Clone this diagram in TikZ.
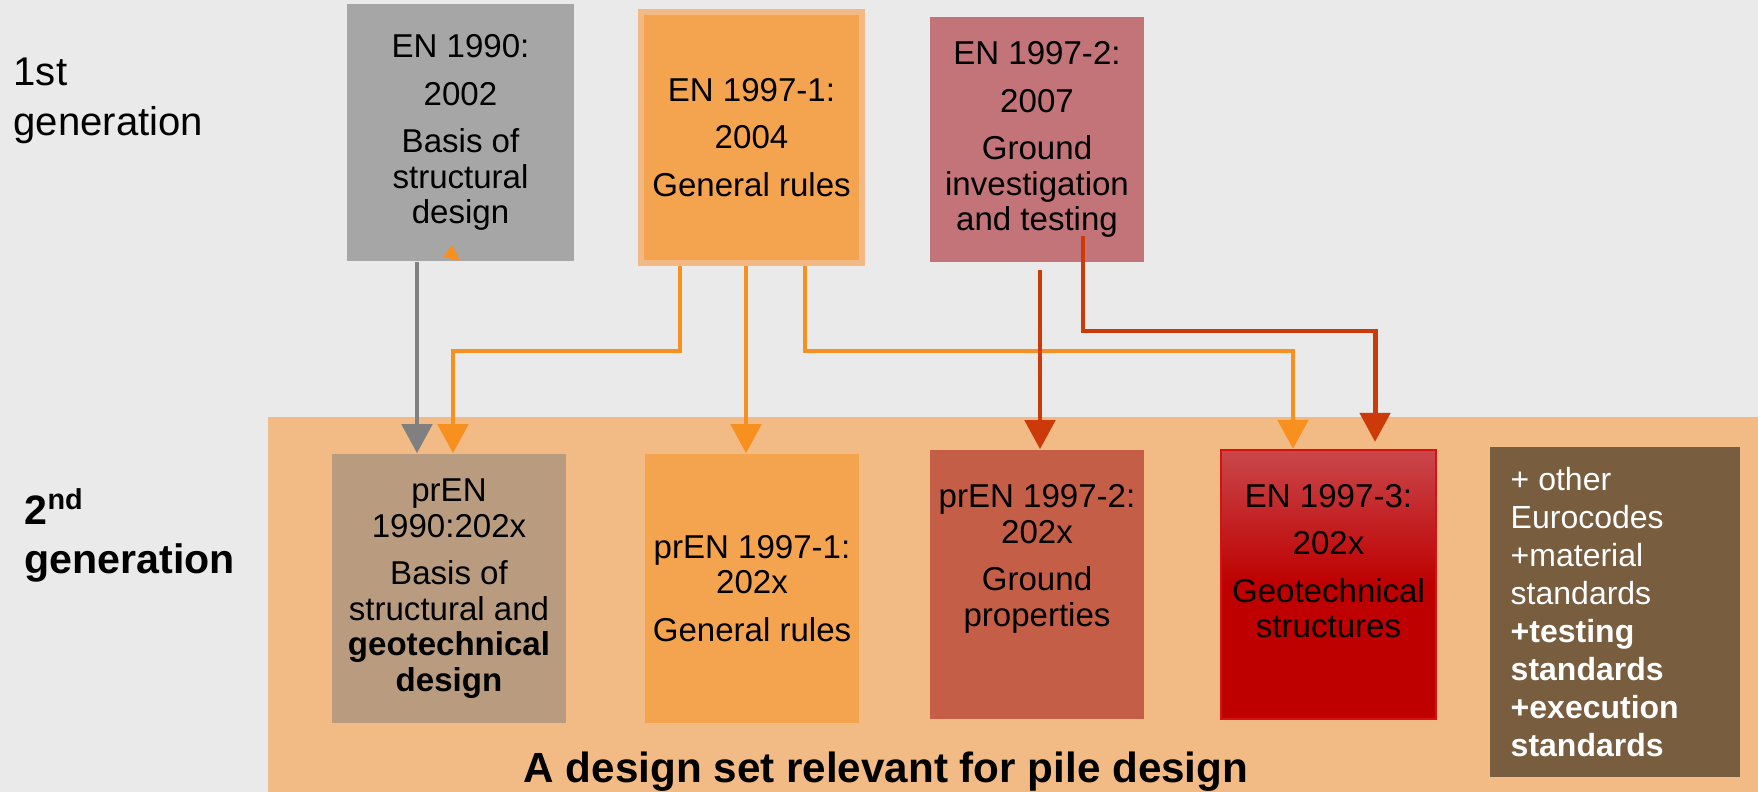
\documentclass[tikz,border=0pt]{standalone}
\usepackage{fontspec}
\setmainfont{Liberation Sans}
\usetikzlibrary{arrows.meta}

\definecolor{bgcol}{HTML}{EAEAEA}
\definecolor{greybox}{HTML}{A6A6A6}
\definecolor{orngbox}{HTML}{F4A44F}
\definecolor{orngedge}{HTML}{F3B985}
\definecolor{pinkbox}{HTML}{C27479}
\definecolor{peach}{HTML}{F2BA84}
\definecolor{tanbox}{HTML}{B99C7F}
\definecolor{rustbox}{HTML}{C45E47}
\definecolor{redtop}{HTML}{C9474B}
\definecolor{redbot}{HTML}{BE0000}
\definecolor{rededge}{HTML}{D81010}
\definecolor{brownbox}{HTML}{785D3F}
\definecolor{arrgrey}{HTML}{808080}
\definecolor{arrorng}{HTML}{F7901E}
\definecolor{arrred}{HTML}{CC3A0A}

\newcommand{\boxfont}{\fontsize{9.4}{10.1}\selectfont}
\newcommand{\gap}{\\[3.4pt]}

\begin{document}
\begin{tikzpicture}[x=0.01cm, y=-0.01cm,
	box/.style={inner sep=0pt},
	txt/.style={align=center, font=\boxfont, inner sep=0pt},
	link/.style={line width=1.4pt, -{Triangle[width=0.3cm,length=0.29cm]}}]
	\fill[bgcol] (0,0) rectangle (1758,792);
	\fill[peach] (268,417) rectangle (1758,792);
	
	\node[anchor=north west, align=left, inner sep=0pt, font=\fontsize{11.4}{14.2}\selectfont] (gen1) at (13,57) {1st\\generation};
	\node[anchor=north west, align=left, inner sep=0pt, font=\fontsize{11.7}{13.9}\selectfont\bfseries] (gen2) at (24,488) {2\textsuperscript{nd}\\generation};
	
	% 1st generation
	\node[box, fill=greybox, minimum width=2.27cm, minimum height=2.57cm] (b1990) at (460.5,132.5) {};
	\node[box, fill=orngbox, draw=orngedge, line width=0.065cm, minimum width=2.205cm, minimum height=2.505cm] (b9971) at (751.5,137.5) {};
	\node[box, fill=pinkbox, minimum width=2.14cm, minimum height=2.45cm] (b9972) at (1037,139.5) {};
	\node[txt] (t1990) at (b1990) {EN 1990:\gap 2002\gap Basis of\\structural\\design};
	\node[txt] (t9971) at (b9971) {EN 1997-1:\gap 2004\gap General rules};
	\node[txt] (t9972) at (b9972) {EN 1997-2:\gap 2007\gap Ground\\investigation\\and testing};
	
	% 2nd generation
	\node[box, fill=tanbox, minimum width=2.34cm, minimum height=2.69cm] (p1990) at (449,588.5) {};
	\node[box, fill=orngbox, minimum width=2.14cm, minimum height=2.69cm] (p9971) at (752,588.5) {};
	\node[box, fill=rustbox, minimum width=2.14cm, minimum height=2.69cm] (p9972) at (1037,584.5) {};
	\node[box, draw=rededge, line width=0.6pt, top color=redtop, bottom color=redbot, middle color=redbot, minimum width=2.15cm, minimum height=2.69cm] (p9973) at (1328.5,584.5) {};
	\node[box, fill=brownbox, minimum width=2.5cm, minimum height=3.3cm] (pother) at (1615,612) {};
	\node[txt] (s1990) at (p1990) {prEN\\1990:202x\gap Basis of\\structural and\\\textbf{geotechnical}\\\textbf{design}};
	\node[txt] (s9971) at (p9971) {prEN 1997-1:\\202x\gap General rules};
	\node[txt] (s9972) at ([yshift=0.255cm]p9972.center) {prEN 1997-2:\\202x\gap Ground\\properties};
	\node[txt] (s9973) at ([yshift=0.235cm]p9973.center) {EN 1997-3:\gap 202x\gap Geotechnical\\structures};
	\node[anchor=west, align=left, inner sep=0pt, text=white, font=\fontsize{9.1}{10.8}\selectfont] (sother) at (1510,612) {+ other\\Eurocodes\\+material\\standards\\\textbf{+testing}\\\textbf{standards}\\\textbf{+execution}\\\textbf{standards}};
	\node[anchor=base, inner sep=0pt, font=\fontsize{12}{14}\selectfont\bfseries] (title) at (886,782) {A design set relevant for pile design};
	
	% links
	\coordinate (xg) at (417,0);
	\coordinate (xo1) at (680,0);
	\coordinate (xo2) at (746,0);
	\coordinate (xo3) at (805,0);
	\coordinate (xr1) at (1040,0);
	\coordinate (jo) at (0,351);
	\coordinate (jr) at (0,331);
	\coordinate (r2s) at (1083,236);
	\draw[link, arrgrey] (b1990.south -| xg) -- (p1990.north -| xg);
	\draw[link, arrorng] (b9971.south -| xo1) -- (xo1 |- jo) -| ([xshift=0.04cm]p1990.north);
	\draw[link, arrorng] (b9971.south -| xo2) -- (p9971.north -| xo2);
	\draw[link, arrorng] (b9971.south -| xo3) -- (xo3 |- jo) -| ([xshift=-0.355cm]p9973.north);
	\draw[link, arrred] ([yshift=-0.07cm]b9972.south -| xr1) -- (p9972.north -| xr1);
	\draw[link, arrred] (r2s) -- (r2s |- jr) -| ([xshift=0.465cm,yshift=0.07cm]p9973.north);
	\fill[arrorng] (443,257) -- (452,245) -- (460,261) -- cycle;
\end{tikzpicture}
\end{document}
